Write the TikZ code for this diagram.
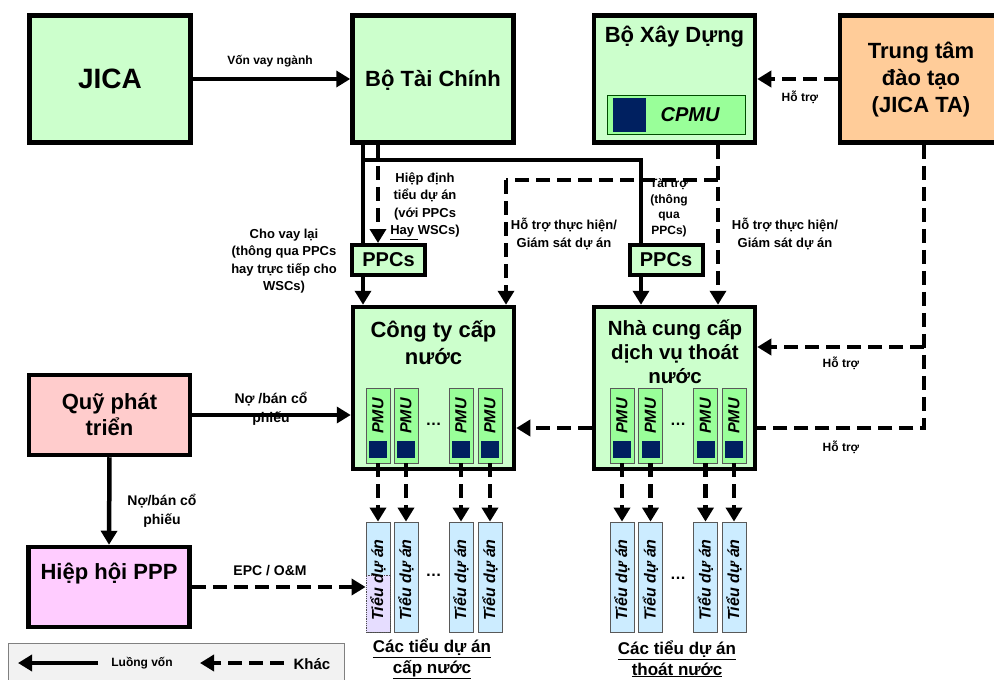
\documentclass[tikz,border=0pt]{standalone}
\usepackage{fontspec}
\setmainfont{Liberation Sans}
\usetikzlibrary{arrows.meta}
\definecolor{boxgreen}{HTML}{CCFFCC}
\definecolor{pmugreen}{HTML}{99FF99}
\definecolor{navysq}{HTML}{002060}
\definecolor{ttorange}{HTML}{FFCC99}
\definecolor{quypink}{HTML}{FFCCCC}
\definecolor{hhpink}{HTML}{FFCCFF}
\definecolor{tdablue}{HTML}{CCECFF}
\definecolor{tdalilac}{HTML}{E6DDFF}
\definecolor{legendgray}{HTML}{F2F2F2}
\begin{document}
\begin{tikzpicture}[x=1pt,y=-1pt,
  every node/.style={font=\bfseries,inner sep=0pt},
  box/.style={draw,line width=4.5pt,fill=boxgreen,minimum width=161pt,minimum height=127pt},
  ppcbox/.style={draw,line width=4pt,fill=boxgreen,minimum width=73pt,minimum height=30pt,font=\fontsize{20}{20}\selectfont\bfseries},
  big/.style={font=\fontsize{22}{27}\selectfont\bfseries,align=center},
  lbl/.style={font=\fontsize{13}{17.5}\selectfont\bfseries,align=center},
  small/.style={font=\fontsize{12}{15.5}\selectfont\bfseries,align=center},
  pmu/.style={draw=black!65,line width=0.8pt,fill=pmugreen,minimum width=24pt,minimum height=75pt},
  tda/.style={draw=black!65,line width=0.8pt,fill=tdablue,minimum width=24pt,minimum height=110pt},
  sq/.style={fill=navysq,minimum width=18pt,minimum height=17pt},
  vtext/.style={rotate=90,font=\fontsize{16}{16}\selectfont\bfseries\itshape},
  vonline/.style={line width=4.5pt},
  vonarrow/.style={vonline,-{Triangle[width=16pt,length=14pt]}},
  khacline/.style={line width=4.5pt,dash pattern=on 14pt off 7pt},
  khacarrow/.style={khacline,-{Triangle[width=16pt,length=14pt]}}]
\clip (0,0) rectangle (994,680);
\useasboundingbox (0,0) rectangle (994,680);
% main boxes
\node[box] (jica) at (110,79) {};
\node[font=\fontsize{28}{28}\selectfont\bfseries] (jicat) at (110,79) {JICA};
\node[box] (btc) at (433,79) {};
\node[big] (btct) at (433,80) {Bộ Tài Chính};
\node[box] (bxd) at (674.5,79) {};
\node[big] (bxdt) at (674.5,37) {Bộ Xây Dựng};
\node[draw=black!70!green,line width=1pt,fill=pmugreen,minimum width=138pt,minimum height=39pt] (cpmu) at (676,115) {};
\node[fill=navysq,minimum width=33pt,minimum height=34pt] (cpmusq) at (629.5,115) {};
\node[font=\fontsize{20}{20}\selectfont\bfseries\itshape] (cpmut) at (690,115) {CPMU};
\node[box,fill=ttorange,minimum width=180pt] (tt) at (930,79) {};
\node[big] (ttt) at (921,80) {Trung tâm\\đào tạo\\(JICA TA)};
\node[ppcbox] (ppcL) at (388.5,260) {PPCs};
\node[ppcbox] (ppcR) at (666,260) {PPCs};
\node[box,minimum height=162pt] (cty) at (433.5,388) {};
\node[big] (ctyt) at (433.5,343) {Công ty cấp\\nước};
\node[box,minimum height=162pt] (ncc) at (674.5,388) {};
\node[big,font=\fontsize{20.5}{24}\selectfont\bfseries] (ncct) at (675,352) {Nhà cung cấp\\dịch vụ thoát\\nước};
\node[box,fill=quypink,minimum height=80pt] (quy) at (109.5,415) {};
\node[big,font=\fontsize{22}{26}\selectfont\bfseries] (quyt) at (109.5,415) {Quỹ phát\\triển};
\node[box,fill=hhpink,minimum height=80pt] (hh) at (109,587) {};
\node[big] (hht) at (109,574) {Hiệp hội PPP};
% PMU and sub-project columns
\foreach \x [count=\i] in {378,406,461,490} {
  \node[pmu] (pmuA\i) at (\x,425.5) {};
  \node[sq] (sqA\i) at (\x,449.5) {};
  \node[vtext] (pmuAt\i) at (\x,416) {PMU};
  \node[tda] (tdaA\i) at (\x,577) {};
}
\node[draw=black!70,densely dotted,line width=0.8pt,fill=tdalilac,minimum width=24pt,minimum height=57pt] (lilac) at (378,603.5) {};
\foreach \x [count=\i] in {378,406,461,490} {
  \node[vtext] (tdaAt\i) at (\x,580) {Tiểu dự án};
  \draw[khacarrow] (pmuA\i.south) -- (tdaA\i.north);
}
\foreach \x [count=\i] in {622,650.5,705.5,734} {
  \node[pmu] (pmuB\i) at (\x,425.5) {};
  \node[sq] (sqB\i) at (\x,449.5) {};
  \node[vtext] (pmuBt\i) at (\x,416) {PMU};
  \node[tda] (tdaB\i) at (\x,577) {};
  \node[vtext] (tdaBt\i) at (\x,580) {Tiểu dự án};
  \draw[khacarrow] (pmuB\i.south) -- (tdaB\i.north);
}
\node[font=\fontsize{16}{16}\selectfont\bfseries] (dotA) at (433.5,424) {\ldots};
\node[font=\fontsize{16}{16}\selectfont\bfseries] (dotB) at (678,424) {\ldots};
\node[font=\fontsize{16}{16}\selectfont\bfseries] (dotC) at (433.5,575) {\ldots};
\node[font=\fontsize{16}{16}\selectfont\bfseries] (dotD) at (678,578) {\ldots};
\node[font=\fontsize{17}{20.5}\selectfont\bfseries,align=center] (capA) at (432,659) {\underline{Các tiểu dự án}\\\underline{cấp nước}};
\node[font=\fontsize{17}{20.5}\selectfont\bfseries,align=center] (capB) at (677,659) {\underline{Các tiểu dự án}\\\underline{thoát nước}};
% funding flows
\draw[vonarrow] (jica.east) -- (btc.west);
\node[small] (vonlbl) at (270,61) {Vốn vay ngành};
\coordinate (forkL) at (363,160);
\coordinate (forkR) at (641,160);
\draw[vonline] (btc.south -| forkL) -- (ppcL.north -| forkL);
\draw[vonline] (forkL) -- (forkR) -- (ppcR.north -| forkR);
\draw[vonarrow] (ppcL.south -| forkL) -- (cty.north -| forkL);
\draw[vonarrow] (ppcR.south -| forkR) -- (ncc.north -| forkR);
\coordinate (hdx) at (378,0);
\draw[khacarrow] (btc.south -| hdx) -- (ppcL.north -| hdx);
\node[lbl] (hdlbl) at (425,206) {Hiệp định\\tiểu dự án\\(với PPCs\\\underline{Hay }WSCs)};
\node[lbl] (cvlbl) at (284,261) {Cho vay lại\\(thông qua PPCs\\hay trực tiếp cho\\WSCs)};
\node[small] (ttlbl) at (669,208) {Tài trợ\\(thông\\qua\\PPCs)};
% support from the ministry
\coordinate (bxdfork) at (718,180);
\coordinate (ctyfork) at (506,180);
\draw[khacarrow] (bxd.south -| bxdfork) -- (ncc.north -| bxdfork);
\draw[khacline] (bxdfork) -- (ctyfork);
\draw[khacarrow] (ctyfork) -- (cty.north -| ctyfork);
\node[lbl] (htL) at (564,234) {Hỗ trợ thực hiện/\\Giám sát dự án};
\node[lbl] (htR) at (785,234) {Hỗ trợ thực hiện/\\Giám sát dự án};
% support from the training centre
\draw[khacarrow] (tt.west) -- (bxd.east);
\node[small] (ht1) at (800,97) {Hỗ trợ};
\coordinate (ttfork) at (924,347);
\coordinate (ttcorner) at (924,428);
\draw[khacline] (tt.south -| ttcorner) -- (ttcorner) -- (ncc.east |- ttcorner);
\draw[khacarrow] (ttfork) -- (ncc.east |- ttfork);
\draw[khacarrow] (ncc.west |- ttcorner) -- (cty.east |- ttcorner);
\node[small] (ht2) at (841,363) {Hỗ trợ};
\node[small] (ht3) at (841,447) {Hỗ trợ};
% development fund
\draw[vonarrow] (quy.east) -- (cty.west |- quy.east);
\node[lbl,font=\fontsize{14}{19}\selectfont\bfseries] (nolbl1) at (271,409) {Nợ /bán cổ\\phiếu};
\draw[vonarrow] (quy.south) -- (hh.north);
\node[lbl,font=\fontsize{14}{19}\selectfont\bfseries] (nolbl2) at (162,511) {Nợ/bán cổ\\phiếu};
\draw[khacarrow] (hh.east) -- (tdaA1.west |- hh.east);
\node[lbl,font=\fontsize{14}{14}\selectfont\bfseries] (epclbl) at (270,571) {EPC / O\&M};
% legend
\node[draw=black!50,line width=0.8pt,fill=legendgray,minimum width=336pt,minimum height=60pt] (legend) at (176,673) {};
\coordinate (lgA1) at (98,663);
\coordinate (lgA2) at (18,663);
\coordinate (lgB1) at (284,663);
\coordinate (lgB2) at (200,663);
\draw[vonarrow] (lgA1) -- (lgA2);
\draw[khacarrow] (lgB1) -- (lgB2);
\node[small] (lgvon) at (142,663) {Luồng vốn};
\node[font=\fontsize{15}{15}\selectfont\bfseries] (lgkhac) at (312,664) {Khác};
\end{tikzpicture}
\end{document}
